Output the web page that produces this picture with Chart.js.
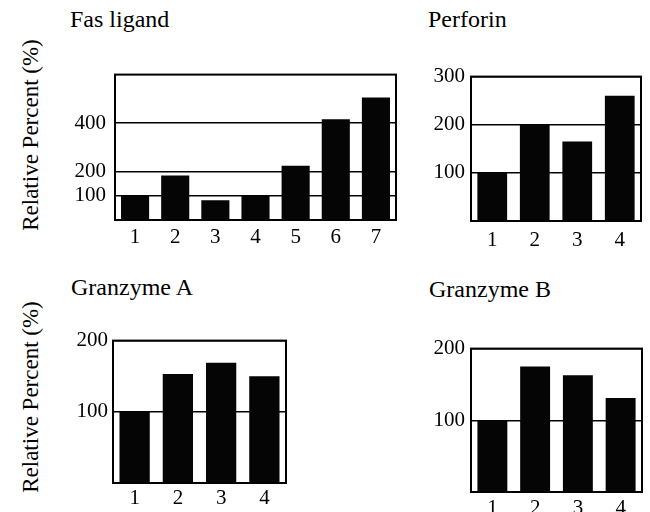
<!DOCTYPE html>
<html>
<head>
<meta charset="utf-8">
<script src="https://cdn.jsdelivr.net/npm/chart.js@4.4.0/dist/chart.umd.min.js"></script>
<style>
  html, body { margin: 0; padding: 0; background: #fff; }
  #page { position: relative; width: 650px; height: 512px; overflow: hidden; background: #fff;
          font-family: 'Liberation Serif', 'Times New Roman', serif; color: #000; }
  canvas { position: absolute; }
  .title { position: absolute; font-size: 24px; line-height: 24px; white-space: nowrap; }
  .ylab { position: absolute; font-size: 23px; line-height: 23px; white-space: nowrap;
          transform: translate(-50%, -50%) rotate(-90deg); }
</style>
</head>
<body>
<div id="page">
  <div class="title" style="left:70px; top:7px;">Fas ligand</div>
  <div class="title" style="left:428px; top:7px;">Perforin</div>
  <div class="title" style="left:71px; top:275px;">Granzyme A</div>
  <div class="title" style="left:429px; top:277px;">Granzyme B</div>
  <div class="ylab" style="left:30px; top:135px;">Relative Percent (%)</div>
  <div class="ylab" style="left:30px; top:397px;">Relative Percent (%)</div>
  <canvas id="fas"></canvas>
  <canvas id="perforin"></canvas>
  <canvas id="granA"></canvas>
  <canvas id="granB"></canvas>
</div>
<script>
// values (relative percent, control = 100)
const fasLabels = ['1', '2', '3', '4', '5', '6', '7'];
const fasValues = [100, 184, 82, 100, 224, 416, 506];
const fasTicks = [100, 200, 400];

const perforinLabels = ['1', '2', '3', '4'];
const perforinValues = [100, 200, 165, 260];
const perforinTicks = [100, 200, 300];

const granALabels = ['1', '2', '3', '4'];
const granAValues = [100, 153, 169, 150];
const granATicks = [100, 200];

const granBLabels = ['1', '2', '3', '4'];
const granBValues = [100, 175, 163, 131];
const granBTicks = [100, 200];

const FONT = "'Liberation Serif', 'Times New Roman', serif";
const AXIS_W = 60, AXIS_H = 30, PAD_TOP = 14, PAD_RIGHT = 8;

// closes the box: top and right edges of the plot area
const frame = {
  id: 'frame',
  afterDatasetsDraw(chart) {
    const { ctx, chartArea: a } = chart;
    ctx.save();
    ctx.strokeStyle = '#000';
    ctx.lineWidth = 2;
    ctx.strokeRect(a.left, a.top, a.right - a.left, a.bottom - a.top);
    ctx.restore();
  }
};

function makePanel(id, area, labels, values, ticks, yMax, yPad, xPad) {
  const cv = document.getElementById(id);
  const w = area.r - area.l + AXIS_W + PAD_RIGHT;
  const h = area.b - area.t + PAD_TOP + AXIS_H;
  cv.width = w; cv.height = h;
  cv.style.left = (area.l - AXIS_W) + 'px';
  cv.style.top = (area.t - PAD_TOP) + 'px';
  cv.style.width = w + 'px'; cv.style.height = h + 'px';

  return new Chart(cv.getContext('2d'), {
    type: 'bar',
    data: {
      labels: labels,
      datasets: [{
        data: values,
        backgroundColor: '#050505',
        borderWidth: 0,
        barPercentage: 0.7,
        categoryPercentage: 1.0
      }]
    },
    options: {
      responsive: false,
      animation: false,
      layout: { padding: { top: PAD_TOP, right: PAD_RIGHT, left: 0, bottom: 0 } },
      plugins: { legend: { display: false }, tooltip: { enabled: false }, title: { display: false } },
      scales: {
        x: {
          grid: { display: false, drawTicks: false },
          border: { display: true, color: '#000', width: 2 },
          ticks: { color: '#000', padding: xPad, font: { family: FONT, size: 21 } },
          afterFit: s => { s.height = AXIS_H; }
        },
        y: {
          min: 0,
          max: yMax,
          afterBuildTicks: s => { s.ticks = ticks.map(v => ({ value: v })); },
          grid: { color: '#000', lineWidth: 1.5, drawTicks: false },
          border: { display: true, color: '#000', width: 2 },
          ticks: { color: '#000', padding: yPad, font: { family: FONT, size: 21 } },
          afterFit: s => { s.width = AXIS_W; }
        }
      }
    },
    plugins: [frame]
  });
}

makePanel('fas', { l: 115, r: 396, t: 67, b: 220 }, fasLabels, fasValues, fasTicks, 600, 9, 5);
makePanel('perforin', { l: 471, r: 641, t: 72, b: 221 }, perforinLabels, perforinValues, perforinTicks, 300, 6, 7);
makePanel('granA', { l: 113, r: 286, t: 337, b: 483 }, granALabels, granAValues, granATicks, 200, 5, 3);
makePanel('granB', { l: 471, r: 642, t: 344, b: 492 }, granBLabels, granBValues, granBTicks, 200, 6, 4);
</script>
</body>
</html>
